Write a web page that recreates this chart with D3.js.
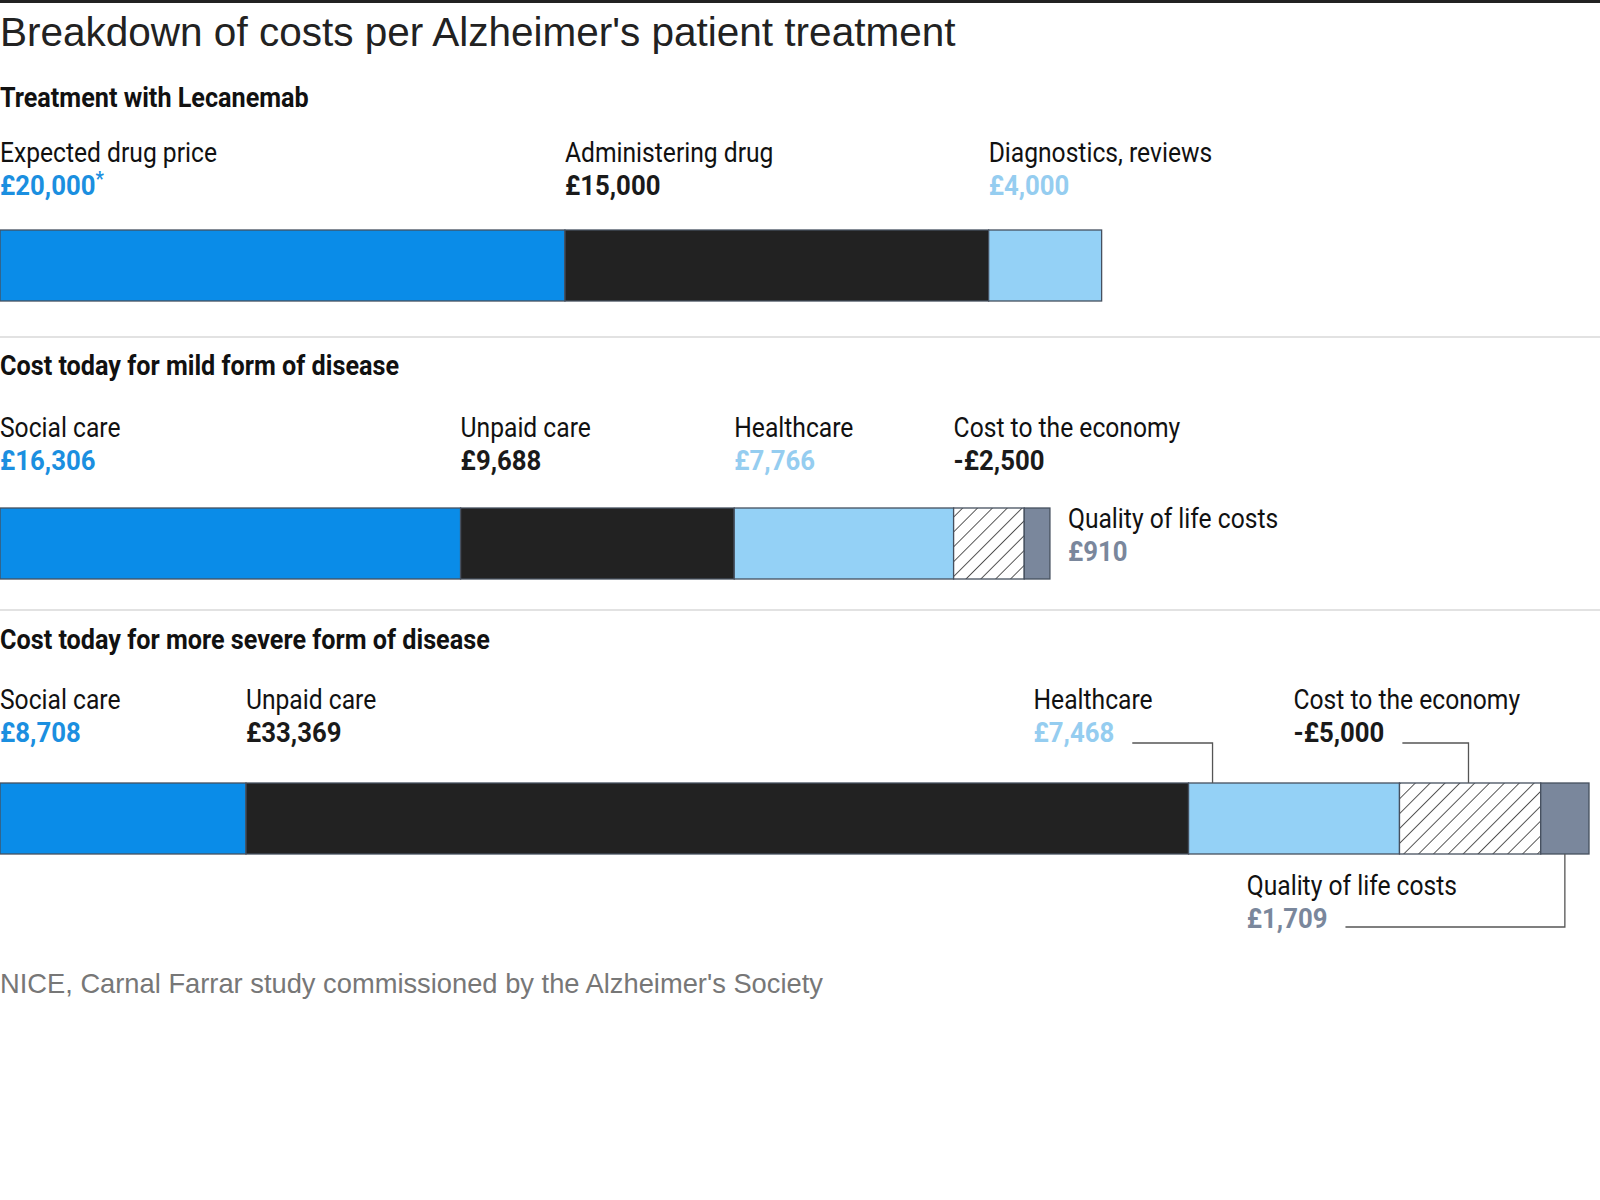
<!DOCTYPE html>
<html>
<head>
<meta charset="utf-8">
<script src="https://cdn.jsdelivr.net/npm/d3@7/dist/d3.min.js"></script>
<style>
  body { margin: 0; background: #fff; }
  .narrow { font-family: Roboto, "DejaVu Sans", sans-serif; }
  .grot { font-family: "Liberation Sans", Arial, sans-serif; }
</style>
</head>
<body>
<svg id="chart" width="1600" height="1200"></svg>
<script>
// chart values
var title = "Breakdown of costs per Alzheimer's patient treatment",
    source = "NICE, Carnal Farrar study commissioned by the Alzheimer's Society";

var sections = ["Treatment with Lecanemab",
                "Cost today for mild form of disease",
                "Cost today for more severe form of disease"];

var lecanemabLabels = ["Expected drug price", "Administering drug", "Diagnostics, reviews"],
    lecanemabValues = [20000, 15000, 4000],
    lecanemabNotes  = ["*", "", ""];

var mildLabels = ["Social care", "Unpaid care", "Healthcare", "Cost to the economy", "Quality of life costs"],
    mildValues = [16306, 9688, 7766, -2500, 910];

var severeLabels = ["Social care", "Unpaid care", "Healthcare", "Cost to the economy", "Quality of life costs"],
    severeValues = [8708, 33369, 7468, -5000, 1709];

// layout
var rows = [
    { labels: lecanemabLabels, values: lecanemabValues, notes: lecanemabNotes, titleY: 107, labelY: 162, barY: 230 },
    { labels: mildLabels, values: mildValues, notes: [], titleY: 375, labelY: 437, barY: 508 },
    { labels: severeLabels, values: severeValues, notes: [], titleY: 649, labelY: 709, barY: 783 }
];
var separators = [336, 609];
var barH = 71, valueGap = 33, fs = 28;
var squeezeText = 0.88, squeezeHead = 0.9, squeezeValue = 0.92;

// label placement that differs from "above the segment start"
var placements = {
    "1-4": { side: "right" },
    "2-2": { dx: -155, elbow: 24 },
    "2-3": { dx: -106, elbow: 69 },
    "2-4": { side: "below", dx: -294 }
};

var fills = {
    "Expected drug price": "#0a8ce8", "Social care": "#0a8ce8",
    "Administering drug": "#222222", "Unpaid care": "#222222",
    "Diagnostics, reviews": "#94d1f6", "Healthcare": "#94d1f6",
    "Cost to the economy": "url(#hatch)",
    "Quality of life costs": "#7a879c"
};
var valueColors = {
    "Expected drug price": "#1b8fe0", "Social care": "#1b8fe0",
    "Administering drug": "#1a1a1a", "Unpaid care": "#1a1a1a",
    "Diagnostics, reviews": "#95cdf0", "Healthcare": "#95cdf0",
    "Cost to the economy": "#1a1a1a",
    "Quality of life costs": "#7a879c"
};

var svg = d3.select("#chart");

var defs = svg.append("defs");
var pat = defs.append("pattern")
    .attr("id", "hatch")
    .attr("patternUnits", "userSpaceOnUse")
    .attr("width", 10.5).attr("height", 10.5)
    .attr("patternTransform", "rotate(45)");
pat.append("rect").attr("width", 10.5).attr("height", 10.5).attr("fill", "#fff");
pat.append("line").attr("x1", 0).attr("y1", 0).attr("x2", 0).attr("y2", 10.5)
    .attr("stroke", "#222").attr("stroke-width", 1.5);

var maxTotal = d3.max(rows, function(r) { return d3.sum(r.values, Math.abs); });
var x = d3.scaleLinear().domain([0, maxTotal]).range([0, 1589]);
var fmt = d3.format(",");
function money(v) { return (v < 0 ? "-" : "") + "£" + fmt(Math.abs(v)); }

// condensed label text
function label(g, lx, ly, str, bold, color, k) {
    return g.append("text").attr("class", "narrow")
        .attr("transform", "translate(" + lx + "," + ly + ") scale(" + k + ",1)")
        .attr("font-size", fs)
        .attr("font-weight", bold ? "bold" : "normal")
        .attr("fill", color)
        .text(str);
}

// top rule
svg.append("rect").attr("x", 0).attr("y", 0).attr("width", 1600).attr("height", 3).attr("fill", "#222");

svg.append("text").attr("class", "grot")
    .attr("x", 0).attr("y", 46)
    .attr("font-size", 40.5).attr("fill", "#222")
    .text(title);

separators.forEach(function(y) {
    svg.append("rect").attr("x", 0).attr("y", y).attr("width", 1600).attr("height", 2)
        .attr("fill", "#e2e2e2");
});

rows.forEach(function(row, ri) {
    var g = svg.append("g");

    label(g, 0, row.titleY, sections[ri], true, "#111", squeezeHead);

    var acc = 0;
    var segs = row.values.map(function(v, i) {
        var s = { label: row.labels[i], value: v, note: row.notes[i] || "", x0: x(acc), x1: x(acc + Math.abs(v)) };
        acc += Math.abs(v);
        return s;
    });

    g.selectAll("rect.seg").data(segs).enter().append("rect")
        .attr("class", "seg")
        .attr("x", function(d) { return d.x0; })
        .attr("y", row.barY)
        .attr("width", function(d) { return d.x1 - d.x0; })
        .attr("height", barH)
        .attr("fill", function(d) { return fills[d.label]; })
        .attr("stroke", "#46505f").attr("stroke-width", 1.3);

    var barEnd = segs[segs.length - 1].x1;

    segs.forEach(function(d, i) {
        var p = placements[ri + "-" + i] || {};
        var lx = d.x0, ly = row.labelY;
        if (p.side === "right") { lx = barEnd + 18; ly = row.barY + 20; }
        else if (p.side === "below") { lx = d.x0 + p.dx; ly = row.barY + barH + 41; }
        else if (p.dx) { lx = d.x0 + p.dx; }

        label(g, lx, ly, d.label, false, "#111", squeezeText);

        var vt = label(g, lx, ly + valueGap, money(d.value), true, valueColors[d.label], squeezeValue);
        if (d.note) {
            vt.append("tspan").attr("font-size", 20).attr("dy", -9).text(d.note);
        }

        // leader lines
        var tx = lx + vt.node().getComputedTextLength() * squeezeValue + 18;
        if (p.elbow !== undefined) {
            var ex = d.x0 + p.elbow, yy = ly + valueGap + 1;
            g.append("path")
                .attr("d", "M" + tx + "," + yy + "H" + ex + "V" + row.barY)
                .attr("fill", "none").attr("stroke", "#555").attr("stroke-width", 1.3);
        } else if (p.side === "below") {
            var mx = (d.x0 + d.x1) / 2, yb = ly + valueGap - 1;
            g.append("path")
                .attr("d", "M" + tx + "," + yb + "H" + mx + "V" + (row.barY + barH))
                .attr("fill", "none").attr("stroke", "#555").attr("stroke-width", 1.3);
        }
    });
});

svg.append("text").attr("class", "grot")
    .attr("x", 0).attr("y", 993)
    .attr("font-size", 27.3).attr("fill", "#777")
    .text(source);
</script>
</body>
</html>
